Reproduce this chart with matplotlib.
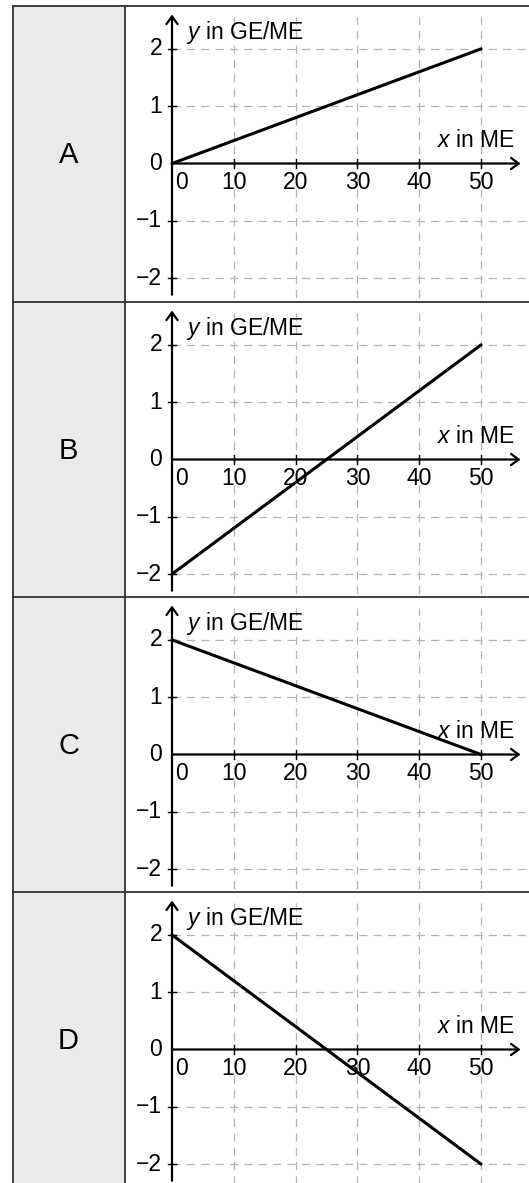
import numpy as np
import matplotlib
matplotlib.use("Agg")
import matplotlib.pyplot as plt

plt.rcParams['font.family'] = ['Liberation Sans', 'DejaVu Sans']
plt.rcParams['mathtext.fontset'] = 'custom'
plt.rcParams['mathtext.rm'] = 'Liberation Sans'
plt.rcParams['mathtext.it'] = 'Liberation Sans:italic'

# Daten: Endpunkte der Geraden je Zeile
letters = ["A", "B", "C", "D"]
x_pts = [0, 50]
y_pts = {"A": [0, 2], "B": [-2, 2], "C": [2, 0], "D": [2, -2]}
xticks = [0, 10, 20, 30, 40, 50]
yticks = [-2, -1, 0, 1, 2]
ytick_labels = ["−2", "−1", "0", "1", "2"]

W, H = 529, 1183
fig = plt.figure(figsize=(W / 100, H / 100), dpi=100)

# Tabelle (Pixelkoordinaten)
bg = fig.add_axes([0, 0, 1, 1])
bg.set_xlim(0, W)
bg.set_ylim(H, 0)
bg.axis("off")
row_tops = [6, 302, 597, 892]
row_h = 295.3
border = "#333333"
bg.fill_between([13, 125], 6, H, color="#ebebeb", zorder=0)
bg.plot([13, 13], [6, H], color=border, lw=1.3)
bg.plot([125, 125], [6, H], color=border, lw=1.3)
for t in row_tops:
    bg.plot([13, W], [t, t], color=border, lw=1.3)

x0_px = 172
sx = 6.18      # px pro x-Einheit
sy = 57.3      # px pro y-Einheit
y0_off = 157.5

grid_kw = dict(color="#b4b4b4", lw=0.9, linestyle=(0, (6.5, 5)), zorder=1)
arrow = "->,head_length=0.55,head_width=0.4"
fs = 16.5

for letter, top in zip(letters, row_tops):
    bg.text(68.5, top + 149, letter, fontsize=21, ha="center", va="center")

    bottom = top + row_h
    ax = fig.add_axes([125 / W, 1 - bottom / H, (W - 125) / W, row_h / H])
    ax.set_xlim((125 - x0_px) / sx, (W - x0_px) / sx)
    ax.set_ylim(-(row_h - y0_off) / sy, y0_off / sy)
    ax.axis("off")

    # Gitter
    for xv in xticks[1:]:
        ax.plot([xv, xv], [-2.6, 2.55], **grid_kw)
    for yv in yticks:
        if yv != 0:
            ax.plot([0, 60], [yv, yv], **grid_kw)

    # Achsen mit Pfeilen
    ax.annotate("", xy=(0, 2.6), xytext=(0, -2.29),
                arrowprops=dict(arrowstyle=arrow, lw=1.6, color="black",
                                shrinkA=0, shrinkB=0), zorder=3)
    ax.annotate("", xy=(56.4, 0), xytext=(0, 0),
                arrowprops=dict(arrowstyle=arrow, lw=1.6, color="black",
                                shrinkA=0, shrinkB=0), zorder=3)

    # Teilstriche
    for yv in yticks:
        if yv != 0:
            ax.plot([-0.7, 0.7], [yv, yv], color="black", lw=1.0, zorder=3)
    for xv in xticks[1:]:
        ax.plot([xv, xv], [-0.07, 0.07], color="black", lw=1.0, zorder=3)

    # Beschriftungen
    for yv, lab in zip(yticks, ytick_labels):
        ax.text(-1.6, yv, lab, fontsize=fs, ha="right", va="center")
    for xv in xticks:
        xp = 1.6 if xv == 0 else xv
        ax.text(xp, -0.33, str(xv), fontsize=fs, ha="center", va="center")
    ax.text(55.6, 0.28, "$x$ in ME", fontsize=fs, ha="right", va="baseline")
    ax.text(2.3, 2.18, "$y$ in GE/ME", fontsize=fs, ha="left", va="baseline")

    # Gerade
    ax.plot(x_pts, y_pts[letter], color="black", lw=2.2, solid_capstyle="round", zorder=4)

fig.savefig("out.png", dpi=100)
